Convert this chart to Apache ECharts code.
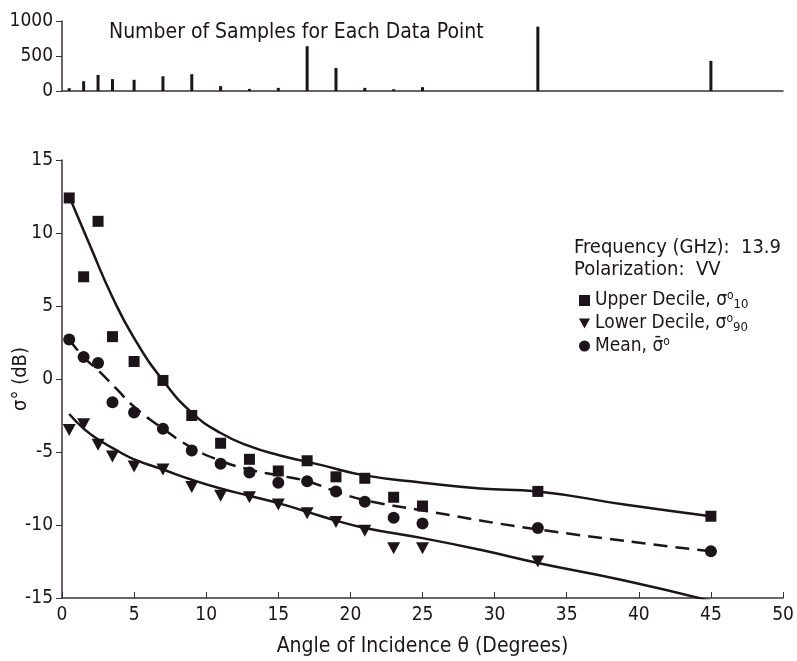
<!DOCTYPE html>
<html>
<head>
<meta charset="utf-8">
<script src="https://cdn.jsdelivr.net/npm/echarts@6/dist/echarts.min.js"></script>
<style>html,body{margin:0;padding:0;background:#fff}#c{width:797px;height:661px}</style>
</head>
<body>
<div id="c"></div>
<script>
// Angles (degrees) of each data point
const angles = [0.5, 1.5, 2.5, 3.5, 5, 7, 9, 11, 13, 15, 17, 19, 21, 23, 25, 33, 45];
// Number of samples for each data point
const samples = [40, 140, 230, 170, 160, 210, 240, 70, 30, 45, 640, 330, 45, 25, 55, 920, 430];
// Upper decile (dB)
const upper = [12.4, 7.0, 10.8, 2.9, 1.2, -0.1, -2.5, -4.4, -5.5, -6.3, -5.6, -6.7, -6.8, -8.1, -8.7, -7.7, -9.4];
// Mean (dB)
const mean = [2.7, 1.5, 1.1, -1.6, -2.3, -3.4, -4.9, -5.8, -6.4, -7.1, -7.0, -7.7, -8.4, -9.5, -9.9, -10.2, -11.8];
// Lower decile (dB)
const lower = [-3.5, -3.1, -4.5, -5.3, -6.0, -6.2, -7.4, -8.0, -8.1, -8.6, -9.2, -9.8, -10.4, -11.6, -11.6, -12.5, -15.2];
// Fitted curves [angle, dB]
const upperFit = [[0.5,12.5],[2,9.0],[3.5,5.6],[5,2.8],[7,-0.1],[9,-2.3],[11,-3.7],[13,-4.6],[15,-5.2],[18,-5.9],[21,-6.6],[25,-7.1],[29,-7.5],[33,-7.7],[39,-8.6],[45,-9.4]];
const meanFit = [[0.5,2.7],[1.5,1.5],[2.6,0.5],[3.8,-0.7],[5,-1.9],[7,-3.4],[9,-4.7],[11,-5.6],[13,-6.2],[15,-6.6],[17,-7.0],[19,-7.7],[21,-8.3],[25,-9.0],[33,-10.3],[45,-11.8]];
const lowerFit = [[0.5,-2.4],[1.5,-3.4],[2.6,-4.2],[4,-5.0],[5,-5.5],[7,-6.2],[9,-6.9],[11,-7.5],[13,-8.0],[15,-8.5],[17,-9.1],[19,-9.7],[21,-10.2],[25,-10.9],[29,-11.7],[33,-12.6],[39,-13.8],[45,-15.2]];
const xTicks = [0, 5, 10, 15, 20, 25, 30, 35, 40, 45, 50];
const yTicks = [-15, -10, -5, 0, 5, 10, 15];
const sampleTicks = [0, 500, 1000];

const FONT = '"Liberation Sans Narrow", "DejaVu Sans Condensed", "DejaVu Sans", sans-serif';
const INK = '#1c1418';
const AXIS = '#3a2e44';

const zip = (xs, ys) => xs.map((x, i) => [x, ys[i]]);
const downTri = 'path://M0,0 L10,0 L5,9 Z';

const chart = echarts.init(document.getElementById('c'));
chart.setOption({
  backgroundColor: '#fff',
  animation: false,
  grid: [
    { left: 62, right: 14, top: 160, bottom: 63, outerBoundsMode: 'none', containLabel: false },
    { left: 62, right: 14, top: 21, height: 70, outerBoundsMode: 'none', containLabel: false }
  ],
  title: {
    text: 'Number of Samples for Each Data Point',
    left: 104, top: 17,
    textStyle: { fontFamily: FONT, fontSize: 21, fontWeight: 'normal', color: INK }
  },
  legend: {
    orient: 'vertical',
    left: 574, top: 285,
    itemGap: 2,
    itemWidth: 11, itemHeight: 11,
    data: [
      { name: 'Upper Decile', icon: 'rect' },
      { name: 'Lower Decile', icon: downTri },
      { name: 'Mean', icon: 'circle' }
    ],
    textStyle: {
      fontFamily: FONT, fontSize: 19, color: INK,
      rich: {
        t: { fontFamily: FONT, fontSize: 19, color: INK },
        s: { fontFamily: FONT, fontSize: 19, color: INK },
        o: { fontFamily: FONT, fontSize: 12, color: INK, verticalAlign: 'top', padding: [0, 0, 8, 0] },
        b: { fontFamily: FONT, fontSize: 13, color: INK, verticalAlign: 'bottom', padding: [8, 0, 0, 0] }
      }
    },
    formatter: function (n) {
      if (n === 'Upper Decile') return '{t|Upper Decile, }{s|σ}{o|o}{b|10}';
      if (n === 'Lower Decile') return '{t|Lower Decile, }{s|σ}{o|o}{b|90}';
      return '{t|Mean, }{s|σ\u0304}{o|o}';
    }
  },
  graphic: [
    { type: 'text', left: 574, top: 238, style: { text: 'Frequency (GHz):  13.9', font: '20px ' + FONT, fill: INK } },
    { type: 'text', left: 574, top: 260, style: { text: 'Polarization:  VV', font: '20px ' + FONT, fill: INK } }
  ],
  xAxis: [
    {
      type: 'value', gridIndex: 0, min: 0, max: 50, interval: 5,
      name: 'Angle of Incidence θ (Degrees)', nameLocation: 'middle', nameGap: 38, nameMoveOverlap: false,
      nameTextStyle: { fontFamily: FONT, fontSize: 21, color: INK },
      axisLine: { onZero: false, lineStyle: { color: AXIS, width: 1.5 } },
      axisTick: { inside: true, length: 6, lineStyle: { color: AXIS } },
      axisLabel: { fontFamily: FONT, fontSize: 19, color: INK, margin: 8,
        formatter: v => xTicks.includes(v) ? String(v) : '' },
      splitLine: { show: false }
    },
    {
      type: 'value', gridIndex: 1, min: 0, max: 50,
      axisLine: { onZero: false, lineStyle: { color: AXIS, width: 1.5 } },
      axisTick: { show: false }, axisLabel: { show: false }, splitLine: { show: false }
    }
  ],
  yAxis: [
    {
      type: 'value', gridIndex: 0, min: -15, max: 15, interval: 5,
      name: 'σ° (dB)', nameLocation: 'middle', nameGap: 31, nameRotate: 90, nameMoveOverlap: false,
      nameTextStyle: { fontFamily: FONT, fontSize: 20, color: INK },
      axisLine: { show: true, onZero: false, lineStyle: { color: AXIS, width: 1.5 } },
      axisTick: { show: true, length: 6, lineStyle: { color: AXIS } },
      axisLabel: { fontFamily: FONT, fontSize: 19, color: INK, margin: 9,
        formatter: v => yTicks.includes(v) ? String(v) : '' },
      splitLine: { show: false }
    },
    {
      type: 'value', gridIndex: 1, min: 0, max: 1000, interval: 500,
      axisLine: { show: true, onZero: false, lineStyle: { color: AXIS, width: 1.5 } },
      axisTick: { show: true, length: 6, lineStyle: { color: AXIS } },
      axisLabel: { fontFamily: FONT, fontSize: 19, color: INK, margin: 9,
        formatter: v => sampleTicks.includes(v) ? String(v) : '' },
      splitLine: { show: false }
    }
  ],
  series: [
    { name: 'samples', type: 'bar', xAxisIndex: 1, yAxisIndex: 1, barWidth: 3,
      data: zip(angles, samples), itemStyle: { color: INK } },
    { name: 'upperFit', type: 'line', smooth: 0.5, showSymbol: false, data: upperFit,
      lineStyle: { color: INK, width: 2.5 }, z: 2 },
    { name: 'meanFit', type: 'line', smooth: 0.5, showSymbol: false, data: meanFit,
      lineStyle: { color: INK, width: 2.5, type: [14, 8] }, z: 2 },
    { name: 'lowerFit', type: 'line', smooth: 0.5, showSymbol: false, data: lowerFit,
      lineStyle: { color: INK, width: 2.5 }, z: 2 },
    { name: 'Upper Decile', type: 'scatter', symbol: 'rect', symbolSize: 11,
      data: zip(angles, upper), itemStyle: { color: INK, opacity: 1 }, z: 3 },
    { name: 'Lower Decile', type: 'scatter', symbol: downTri, symbolSize: [13, 12],
      data: zip(angles, lower), itemStyle: { color: INK, opacity: 1 }, z: 3 },
    { name: 'Mean', type: 'scatter', symbol: 'circle', symbolSize: 12,
      data: zip(angles, mean), itemStyle: { color: INK, opacity: 1 }, z: 3 }
  ]
});
</script>
</body>
</html>
